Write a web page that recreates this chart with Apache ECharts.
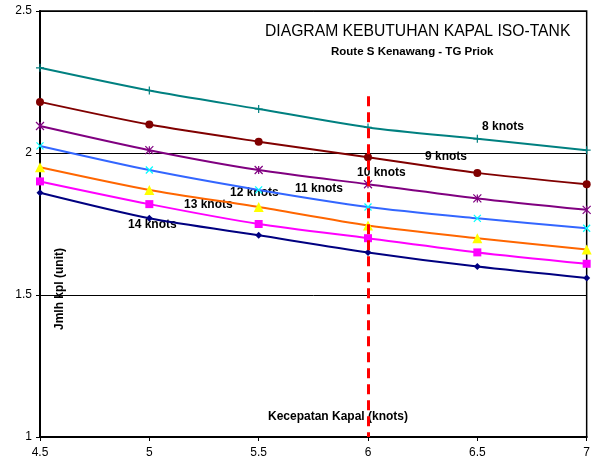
<!DOCTYPE html>
<html>
<head>
<meta charset="utf-8">
<script src="https://cdn.jsdelivr.net/npm/echarts@6/dist/echarts.min.js"></script>
<style>
  html, body { margin: 0; padding: 0; background: #fff; }
  #chart { width: 593px; height: 466px; }
</style>
</head>
<body>
<div id="chart"></div>
<script>
// kecepatan kapal (knots) on the x axis
const speeds = [4.5, 5, 5.5, 6, 6.5, 7]
const seriesNames = ['8 knots', '9 knots', '10 knots', '11 knots', '12 knots', '13 knots', '14 knots']
const knots8 = [2.30, 2.22, 2.155, 2.09, 2.05, 2.01]
const knots9 = [2.18, 2.10, 2.04, 1.985, 1.93, 1.89]
const knots10 = [2.095, 2.01, 1.94, 1.89, 1.84, 1.80]
const knots11 = [2.025, 1.94, 1.87, 1.81, 1.77, 1.735]
const knots12 = [1.95, 1.87, 1.81, 1.745, 1.70, 1.66]
const knots13 = [1.90, 1.82, 1.75, 1.70, 1.65, 1.61]
const knots14 = [1.86, 1.77, 1.71, 1.65, 1.60, 1.56]
const yTicks = [1, 1.5, 2, 2.5]

const allValues = [knots8, knots9, knots10, knots11, knots12, knots13, knots14]

// line colour, marker colour, marker shape, marker size
const styles = [
  { line: '#008080', mark: '#008080', symbol: 'path://M5,0L5,10M0,5L10,5', size: 8, stroke: true },
  { line: '#800000', mark: '#800000', symbol: 'circle', size: 8 },
  { line: '#800080', mark: '#800080', symbol: 'path://M5,0L5,10M0,0L10,10M10,0L0,10', size: 8, stroke: true },
  { line: '#3366ff', mark: '#00ffff', symbol: 'path://M0,0L10,10M10,0L0,10', size: 7, stroke: true },
  { line: '#ff6600', mark: '#ffff00', symbol: 'triangle', size: 10 },
  { line: '#ff00ff', mark: '#ff00ff', symbol: 'rect', size: 8 },
  { line: '#000080', mark: '#000080', symbol: 'diamond', size: 7 }
]

// label positions beside the lines (pixels)
const labelPos = [[482, 121], [425, 151], [357, 167], [295, 183], [230, 187], [184, 199], [128, 219]]

const chart = echarts.init(document.getElementById('chart'))

const series = allValues.map((vals, i) => {
  const st = styles[i]
  return {
    name: seriesNames[i],
    type: 'line',
    smooth: 0.25,
    data: vals.map((v, j) => [speeds[j], v]),
    symbol: st.symbol,
    symbolSize: st.size,
    showAllSymbol: true,
    lineStyle: { color: st.line, width: 2 },
    itemStyle: st.stroke
      ? { color: 'rgba(0,0,0,0)', borderColor: st.mark, borderWidth: 1.2 }
      : { color: st.mark, borderWidth: 0 },
    z: 3
  }
})

// garis batas merah putus-putus di 6 knots
series.push({
  type: 'line',
  data: [],
  markLine: {
    silent: true,
    symbol: 'none',
    label: { show: false },
    lineStyle: { color: '#ff0000', type: [10, 6], width: 3 },
    data: [[{ coord: [6, 2.2] }, { coord: [6, 1] }]]
  },
  z: 4
})

const option = {
  animation: false,
  grid: {
    left: 40, right: 4, top: 11, bottom: 29,
    show: true,
    borderColor: '#000',
    borderWidth: 1.5
  },
  graphic: [
    {
      type: 'text', left: 265, top: 24,
      style: { text: 'DIAGRAM KEBUTUHAN KAPAL ISO-TANK', font: '15.7px "Liberation Sans", Arial', fill: '#000' }
    },
    {
      type: 'text', left: 331, top: 46,
      style: { text: 'Route S Kenawang - TG Priok', font: 'bold 11.5px "Liberation Sans", Arial', fill: '#000' }
    },
    {
      type: 'text', left: 268, top: 411,
      style: { text: 'Kecepatan Kapal (knots)', font: 'bold 12px "Liberation Sans", Arial', fill: '#000' }
    },
    {
      type: 'text', x: 54, y: 330, rotation: Math.PI / 2,
      style: { text: 'Jmlh kpl (unit)', font: 'bold 12px "Liberation Sans", Arial', fill: '#000' }
    }
  ].concat(labelPos.map((p, i) => ({
    type: 'text', left: p[0], top: p[1],
    style: { text: seriesNames[i], font: 'bold 12px "Liberation Sans", Arial', fill: '#000' }
  }))),
  xAxis: {
    type: 'value',
    min: speeds[0],
    max: speeds[speeds.length - 1],
    interval: 0.5,
    axisLine: { lineStyle: { color: '#000', width: 2 } },
    axisTick: { show: true, length: 4, lineStyle: { color: '#000' } },
    axisLabel: { color: '#000', fontSize: 12, fontFamily: '"Liberation Sans", Arial', margin: 10 },
    splitLine: { show: false }
  },
  yAxis: {
    type: 'value',
    min: yTicks[0],
    max: yTicks[yTicks.length - 1],
    interval: 0.5,
    axisLine: { show: true, lineStyle: { color: '#000', width: 2 } },
    axisTick: { show: true, length: 4, lineStyle: { color: '#000' } },
    axisLabel: { color: '#000', fontSize: 12, fontFamily: '"Liberation Sans", Arial', margin: 8 },
    splitLine: { lineStyle: { color: '#000', width: 1 } }
  },
  series: series
}

chart.setOption(option)
</script>
</body>
</html>
